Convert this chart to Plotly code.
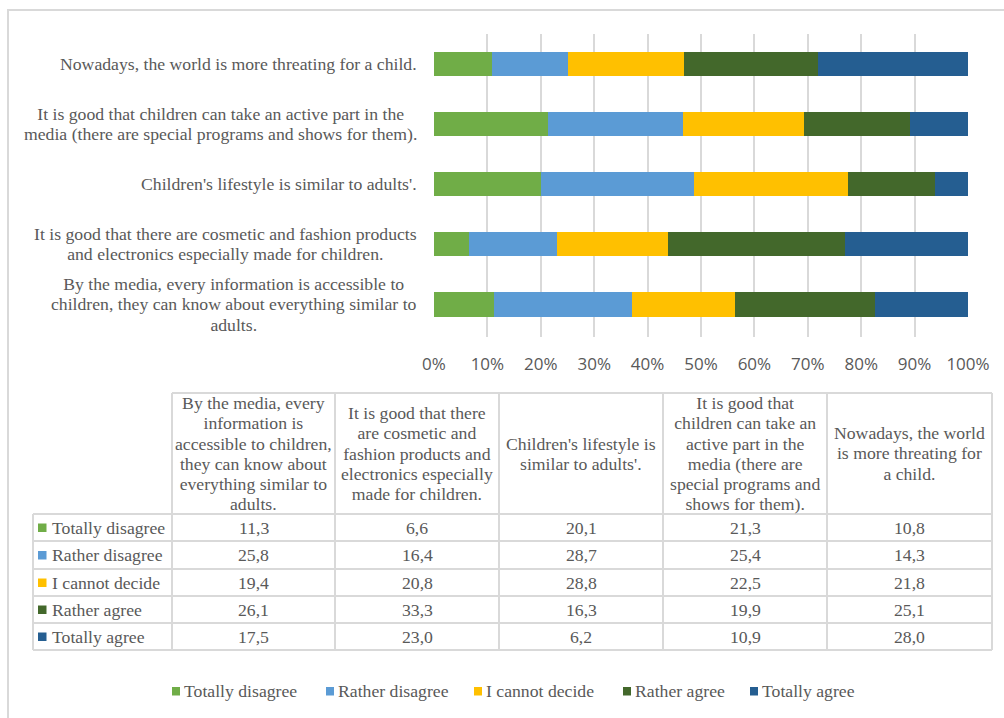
import plotly.graph_objects as go

W, H = 1004, 718

categories = [
    "By the media, every information is accessible to children, they can know about everything similar to adults.",
    "It is good that there are cosmetic and fashion products and electronics especially made for children.",
    "Children's lifestyle is similar to adults'.",
    "It is good that children can take an active part in the media (there are special programs and shows for them).",
    "Nowadays, the world is more threating for a child.",
]
axis_label_lines = [
    ["By the media, every information is accessible to", "children, they can know about everything similar to", "adults."],
    ["It is good that there are cosmetic and fashion products", "and electronics especially made for children."],
    ["Children's lifestyle is similar to adults'."],
    ["It is good that children can take an active part in the", "media (there are special programs and shows for them)."],
    ["Nowadays, the world is more threating for a child."],
]
table_header_lines = [
    ["By the media, every", "information is", "accessible to children,", "they can know about", "everything similar to", "adults."],
    ["It is good that there", "are cosmetic and", "fashion products and", "electronics especially", "made for children."],
    ["Children's lifestyle is", "similar to adults'."],
    ["It is good that", "children can take an", "active part in the", "media (there are", "special programs and", "shows for them)."],
    ["Nowadays, the world", "is more threating for", "a child."],
]
series_names = ["Totally disagree", "Rather disagree", "I cannot decide", "Rather agree", "Totally agree"]
totally_disagree = [11.3, 6.6, 20.1, 21.3, 10.8]
rather_disagree = [25.8, 16.4, 28.7, 25.4, 14.3]
cannot_decide = [19.4, 20.8, 28.8, 22.5, 21.8]
rather_agree = [26.1, 33.3, 16.3, 19.9, 25.1]
totally_agree = [17.5, 23.0, 6.2, 10.9, 28.0]
series_values = [totally_disagree, rather_disagree, cannot_decide, rather_agree, totally_agree]
colors = ["#70AD47", "#5B9BD5", "#FFC000", "#43682B", "#255E91"]
x_ticks = list(range(0, 101, 10))

SERIF = "Liberation Serif"
TXT = "#595959"
GRID = "#D9D9D9"
BASE = 15.6      # sets the line spacing (1.3 em)
FS = 17.7        # visible glyph size


def px(x):
    return x / W


def py(y):
    return 1 - y / H


def ml(lines):
    return "<br>".join(f"<span style='font-size:{FS}px'>{ln}</span>" for ln in lines)


fig = go.Figure()
for name, vals, col in zip(series_names, series_values, colors):
    fig.add_trace(go.Bar(
        y=categories, x=vals, name=name, orientation="h",
        marker=dict(color=col, line=dict(width=0)),
        showlegend=False,
    ))

shapes = []
annotations = []

# category labels
for cat, lines in zip(categories, axis_label_lines):
    annotations.append(dict(
        x=px(419), xref="paper", xanchor="right", y=cat, yref="y", yanchor="middle",
        text=ml(lines), showarrow=False, align="center",
        font=dict(family=SERIF, size=BASE, color=TXT),
    ))

# data table
col_x = [33, 172, 335, 499, 663, 827, 992]
row_y = [393, 514, 541, 569, 596, 623, 650]
LW = 2
shapes.append(dict(type="line", xref="paper", yref="paper", x0=px(col_x[1]), x1=px(col_x[-1]),
                   y0=py(row_y[0]), y1=py(row_y[0]), line=dict(color=GRID, width=LW)))
for ry in row_y[1:]:
    shapes.append(dict(type="line", xref="paper", yref="paper", x0=px(col_x[0]), x1=px(col_x[-1]),
                       y0=py(ry), y1=py(ry), line=dict(color=GRID, width=LW)))
shapes.append(dict(type="line", xref="paper", yref="paper", x0=px(col_x[0]), x1=px(col_x[0]),
                   y0=py(row_y[1]), y1=py(row_y[-1]), line=dict(color=GRID, width=LW)))
for cx in col_x[1:]:
    shapes.append(dict(type="line", xref="paper", yref="paper", x0=px(cx), x1=px(cx),
                       y0=py(row_y[0]), y1=py(row_y[-1]), line=dict(color=GRID, width=LW)))

for j, lines in enumerate(table_header_lines):
    annotations.append(dict(
        x=px((col_x[j + 1] + col_x[j + 2]) / 2), y=py((row_y[0] + row_y[1]) / 2),
        xref="paper", yref="paper", xanchor="center", yanchor="middle",
        text=ml(lines), showarrow=False, align="center",
        font=dict(family=SERIF, size=BASE, color=TXT),
    ))

for i, (name, vals, col) in enumerate(zip(series_names, series_values, colors)):
    yc = (row_y[i + 1] + row_y[i + 2]) / 2
    shapes.append(dict(type="rect", xref="paper", yref="paper", x0=px(38), x1=px(46.5),
                       y0=py(yc + 4.5), y1=py(yc - 4), fillcolor=col, line=dict(width=0)))
    annotations.append(dict(
        x=px(50), y=py(yc), xref="paper", yref="paper", xanchor="left", yanchor="middle",
        text=name, showarrow=False, font=dict(family=SERIF, size=FS, color=TXT),
    ))
    for j, v in enumerate(vals):
        annotations.append(dict(
            x=px((col_x[j + 1] + col_x[j + 2]) / 2), y=py(yc),
            xref="paper", yref="paper", xanchor="center", yanchor="middle",
            text=f"{v:.1f}".replace(".", ","), showarrow=False,
            font=dict(family=SERIF, size=FS, color=TXT),
        ))

# legend (drawn manually to match the Excel look)
legend_x = [172, 326, 474, 623, 750]
legend_y = 691
for name, col, lx in zip(series_names, colors, legend_x):
    shapes.append(dict(type="rect", xref="paper", yref="paper", x0=px(lx), x1=px(lx + 8),
                       y0=py(legend_y + 4.5), y1=py(legend_y - 4), fillcolor=col, line=dict(width=0)))
    annotations.append(dict(
        x=px(lx + 10), y=py(legend_y), xref="paper", yref="paper", xanchor="left", yanchor="middle",
        text=name, showarrow=False, font=dict(family=SERIF, size=FS, color=TXT),
    ))

# outer chart border (top and left visible)
shapes.append(dict(type="path", xref="paper", yref="paper",
                   path=f"M {px(8)},{py(H + 5)} L {px(8)},{py(10)} L {px(W + 5)},{py(10)}",
                   line=dict(color=GRID, width=2)))

fig.update_layout(
    width=W, height=H, margin=dict(l=0, r=0, t=0, b=0, autoexpand=False),
    paper_bgcolor="white", plot_bgcolor="white",
    barmode="stack", barnorm="percent", bargap=0.6,
    showlegend=False,
    xaxis=dict(domain=[px(434), px(968)], range=[0, 100], tickvals=x_ticks,
               ticktext=[f"{t}%" for t in x_ticks], showgrid=True, gridcolor=GRID, gridwidth=2,
               zeroline=False, showline=False, ticks="", ticklabelstandoff=15, automargin=False,
               tickfont=dict(family="Open Sans", size=17, color=TXT), fixedrange=True),
    yaxis=dict(domain=[py(337), py(34)], showticklabels=False, showgrid=False, automargin=False,
               zeroline=False, showline=False, categoryorder="array", categoryarray=categories,
               fixedrange=True),
    shapes=shapes, annotations=annotations,
)

fig.write_html("out.html")
